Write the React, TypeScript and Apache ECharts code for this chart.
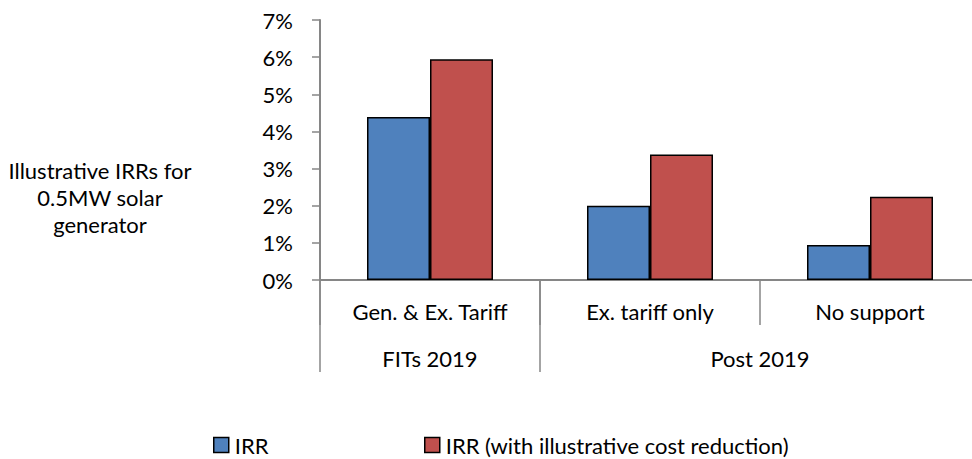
import React, { useEffect, useRef } from "react";
import * as echarts from "echarts";

const categories = ["Gen. & Ex. Tariff", "Ex. tariff only", "No support"];
const groupLabels = ["FITs 2019", "Post 2019"];
const groupLabelPositions = [0.5, 2];
const groupBoundaries = [0, 1];
const irr = [0.0439, 0.02, 0.0094];
const irrCostReduction = [0.0594, 0.0338, 0.0224];
const seriesNames = ["IRR", "IRR (with illustrative cost reduction)"];
const yTicks = [0, 0.01, 0.02, 0.03, 0.04, 0.05, 0.06, 0.07];
const titleText = "Illustrative IRRs for\n0.5MW solar\ngenerator";

const FONT = "Lato, 'Open Sans', sans-serif";
const GRAY = "#868686";
const FS = 22;

export default function App() {
  const ref = useRef<HTMLDivElement>(null);
  useEffect(() => {
    document.body.style.margin = "0";
    const chart = echarts.init(ref.current!, undefined, { renderer: "svg" });
    chart.setOption({
      animation: false,
      textStyle: { fontFamily: FONT, color: "#000" },
      title: {
        text: titleText,
        left: 100,
        top: 157,
        padding: 0,
        textAlign: "center",
        textStyle: {
          fontFamily: FONT,
          fontSize: FS,
          fontWeight: "normal",
          color: "#000",
          lineHeight: 27,
          align: "center",
        },
      },
      legend: [
        {
          data: [seriesNames[0]],
          left: 213,
          top: 434,
          itemWidth: 15,
          itemHeight: 15,
          icon: "rect",
          itemStyle: { borderColor: "#000", borderWidth: 1.5 },
          textStyle: { fontFamily: FONT, fontSize: FS, color: "#000", padding: [0, 0, 0, 1] },
          padding: 0,
        },
        {
          data: [seriesNames[1]],
          left: 424,
          top: 434,
          itemWidth: 15,
          itemHeight: 15,
          icon: "rect",
          itemStyle: { borderColor: "#000", borderWidth: 1.5 },
          textStyle: { fontFamily: FONT, fontSize: FS, color: "#000", padding: [0, 0, 0, 1] },
          padding: 0,
        },
      ],
      grid: { left: 320, top: 20, width: 660, height: 260, containLabel: false, outerBoundsMode: "none" },
      xAxis: [
        {
          type: "category",
          data: categories,
          position: "bottom",
          axisLine: { show: true, lineStyle: { color: GRAY, width: 2 } },
          axisTick: { show: true, length: 45, interval: 0, alignWithLabel: false, lineStyle: { color: GRAY, width: 1.5 } },
          axisLabel: { interval: 0, margin: 20, fontSize: FS, color: "#000", fontFamily: FONT },
        },
        {
          type: "value",
          min: 0,
          max: 3,
          interval: 1,
          position: "bottom",
          axisLine: { show: false },
          splitLine: { show: false },
          axisTick: { show: true, length: 92, customValues: groupBoundaries, lineStyle: { color: GRAY, width: 1.5 } },
          axisLabel: {
            show: true,
            customValues: groupLabelPositions,
            margin: 67,
            fontSize: FS,
            color: "#000",
            fontFamily: FONT,
            formatter: (v: number) => {
              const i = groupLabelPositions.indexOf(v);
              return i >= 0 ? groupLabels[i] : "";
            },
          },
        },
      ],
      yAxis: {
        type: "value",
        min: 0,
        max: 0.07,
        interval: 0.01,
        splitLine: { show: false },
        axisLine: { show: true, lineStyle: { color: GRAY, width: 2 } },
        axisTick: { show: true, length: 8, lineStyle: { color: GRAY, width: 1.5 } },
        axisLabel: {
          margin: 27,
          fontSize: FS,
          color: "#000",
          fontFamily: FONT,
          formatter: (v: number) => {
            const t = yTicks.find((x) => Math.abs(x - v) < 1e-9);
            return Math.round((t ?? v) * 100) + "%";
          },
        },
      },
      series: [
        {
          name: seriesNames[0],
          type: "bar",
          data: irr,
          xAxisIndex: 0,
          barWidth: 63,
          barGap: "0%",
          itemStyle: { color: "#4F81BD", borderColor: "#000", borderWidth: 1.5 },
        },
        {
          name: seriesNames[1],
          type: "bar",
          data: irrCostReduction,
          xAxisIndex: 0,
          barWidth: 63,
          barGap: "0%",
          itemStyle: { color: "#C0504D", borderColor: "#000", borderWidth: 1.5 },
        },
      ],
    });
    return () => chart.dispose();
  }, []);
  return <div ref={ref} style={{ width: 972, height: 459 }} />;
}
